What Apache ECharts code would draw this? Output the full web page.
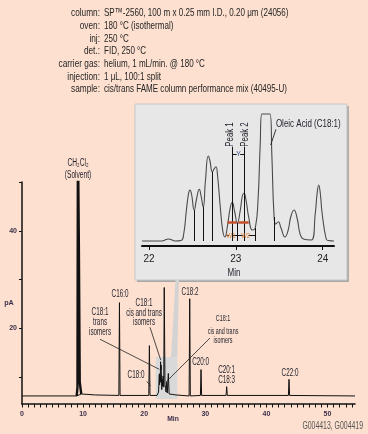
<!DOCTYPE html>
<html><head><meta charset="utf-8">
<script src="https://cdn.jsdelivr.net/npm/echarts@6/dist/echarts.min.js"></script>
<style>html,body{margin:0;padding:0;background:#fde0cf;}#c{width:368px;height:434px;}</style>
</head><body><div id="c"></div>
<script>
const FONT = "'Liberation Sans',Arial,sans-serif";

// ---------- header ----------
const headerLabels = ['column:', 'oven:', 'inj:', 'det.:', 'carrier gas:', 'injection:', 'sample:'];
const headerValues = ['SP\u2122-2560, 100 m x 0.25 mm I.D., 0.20 \u03bcm (24056)', '180 \u00b0C (isothermal)', '250 \u00b0C', 'FID, 250 \u00b0C', 'helium, 1 mL/min. @ 180 \u00b0C', '1 \u03bcL, 100:1 split', 'cis/trans FAME column performance mix (40495-U)'];

// ---------- main chromatogram (min, pA) ----------
const mainXLabels = [0, 10, 20, 30, 40, 50];
const mainXTickValues = [];
for (let i = 0; i <= 54; i++) mainXTickValues.push(i);
const mainYTicks = [10, 20, 30, 40, 50];
const mainYLabels = [20, 40];

const solventTrace = [[8.95, 6.2], [9.08, 8], [9.15, 60], [9.22, 60], [9.3, 38], [9.45, 9], [9.7, 6.6]];
const mainTrace = [
  [0, 6.2], [8.95, 6.2], [9.7, 6.6], [12, 6.4], [15.85, 6.3], [15.95, 25.3], [16.05, 6.3],
  [20.75, 6.3], [20.85, 16.5], [20.95, 6.3], [22.1, 6.3], [22.22, 6.6], [22.35, 7.0],
  [22.47, 10.6], [22.52, 8.5], [22.58, 10.8], [22.63, 9.0], [22.68, 13.2], [22.73, 11.5],
  [22.77, 12.5], [22.87, 7.5], [22.96, 9.6], [23.02, 8.2], [23.09, 10.3], [23.2, 8.0],
  [23.28, 28.4], [23.4, 8.5], [23.49, 8.0], [23.57, 7.0], [23.67, 9.0], [23.78, 6.8],
  [23.95, 10.8], [24.08, 6.6], [24.4, 6.9], [24.7, 6.5], [25.2, 6.4], [27.35, 6.2],
  [27.45, 26.1], [27.55, 6.2], [29.2, 6.3], [29.3, 11.6], [29.4, 6.3], [33.4, 6.3],
  [33.5, 8.1], [33.6, 6.3], [43.6, 6.3], [43.7, 9.6], [43.8, 6.3], [54.5, 6.2]
];

// ---------- inset (min, relative response) ----------
const insetXTicks = [22, 23, 24];
const insetTrace = [
  [21.92, 5], [22.15, 5], [22.20, 6.5], [22.22, 7], [22.25, 6.5], [22.30, 5], [22.37, 5.5],
  [22.40, 12], [22.43, 35], [22.455, 52], [22.472, 56], [22.49, 52], [22.521, 36], [22.55, 48],
  [22.579, 56.7], [22.60, 50], [22.625, 39], [22.65, 65], [22.683, 90], [22.70, 86], [22.731, 74],
  [22.75, 77], [22.771, 79.3], [22.79, 70], [22.82, 40], [22.85, 15], [22.875, 9], [22.90, 18],
  [22.935, 38], [22.959, 43.7], [22.985, 35], [23.017, 23], [23.05, 35], [23.075, 50],
  [23.094, 52.7], [23.115, 47], [23.15, 28], [23.19, 16], [23.224, 18], [23.255, 45],
  [23.28, 100], [23.30, 132], [23.35, 132], [23.393, 132], [23.415, 90], [23.44, 30], [23.46, 22],
  [23.489, 24.3], [23.52, 18], [23.566, 9], [23.60, 15], [23.635, 30], [23.67, 36],
  [23.705, 28], [23.74, 12], [23.777, 7], [23.87, 6], [23.915, 33], [23.935, 52],
  [23.954, 61], [23.973, 52], [23.993, 33], [24.04, 7], [24.064, 5.5], [24.13, 5]
];
const insetBaseline = 5;
const dropTimes = [22.521, 22.625, 22.731, 23.017, 23.224, 23.443];
const dropTops = [36, 39, 74, 23, 18, 29];
const peakLineTimes = [22.959, 23.094];
const peakLineTop = 99.3;

const chart = echarts.init(document.getElementById('c'));

const dropSegs = dropTimes.map((t, i) => [{coord: [t, insetBaseline]}, {coord: [t, dropTops[i]]}]);
peakLineTimes.forEach(t => dropSegs.push([{coord: [t, insetBaseline]}, {coord: [t, peakLineTop]}]));
const blk = {color: '#111', width: 1, type: 'solid'};
const red = {color: '#c4502e', width: 2.5, type: 'solid'};
// dimension marks (Y, W1, W2)
dropSegs.push([{coord: [22.959, 92], lineStyle: blk}, {coord: [23.01, 92]}]);
dropSegs.push([{coord: [23.05, 92], lineStyle: blk}, {coord: [23.094, 92]}]);
dropSegs.push([{coord: [22.903, 23.7], lineStyle: red}, {coord: [23.010, 23.7]}]);
dropSegs.push([{coord: [23.028, 23.7], lineStyle: red}, {coord: [23.148, 23.7]}]);
dropSegs.push([{coord: [22.895, 10.3]}, {coord: [22.922, 10.3]}]);
dropSegs.push([{coord: [22.968, 10.3]}, {coord: [23.017, 10.3]}]);
dropSegs.push([{coord: [23.017, 10.3]}, {coord: [23.085, 10.3]}]);
dropSegs.push([{coord: [23.145, 10.3]}, {coord: [23.224, 10.3]}]);

const option = {
  backgroundColor: '#fde0cf',
  animation: false,
  grid: [
    {left: 22, top: 182, width: 333, height: 222},
    {left: 142, top: 113, width: 192, height: 133}
  ],
  xAxis: [
    {gridIndex: 0, type: 'value', min: 0, max: 54.5,
      axisLine: {lineStyle: {color: '#111', width: 1.6}},
      axisTick: {customValues: mainXTickValues, length: 3.5, lineStyle: {color: '#111', width: 1}},
      axisLabel: {customValues: mainXLabels, fontSize: 7, fontWeight: 'bold', color: '#3b2f4a', margin: 7, fontFamily: FONT},
      splitLine: {show: false}},
    {gridIndex: 1, type: 'value', min: 21.92, max: 24.13,
      axisLine: {lineStyle: {color: '#111', width: 2}},
      axisTick: {customValues: insetXTicks, length: 4, lineStyle: {color: '#111', width: 1}},
      axisLabel: {customValues: insetXTicks, fontSize: 10, color: '#222', margin: 8, fontFamily: FONT},
      splitLine: {show: false}}
  ],
  yAxis: [
    {gridIndex: 0, type: 'value', min: 4.55, max: 50,
      axisLine: {show: true, lineStyle: {color: '#111', width: 1.5}},
      axisTick: {show: true, customValues: mainYTicks, length: 3, lineStyle: {color: '#111'}},
      axisLabel: {customValues: mainYLabels, fontSize: 7, fontWeight: 'bold', color: '#3b2f4a', margin: 5, fontFamily: FONT},
      splitLine: {show: false}},
    {gridIndex: 1, type: 'value', min: 0, max: 133, show: false}
  ],
  series: [
    {type: 'line', name: 'main', xAxisIndex: 0, yAxisIndex: 0, data: mainTrace, showSymbol: false, silent: true,
      lineStyle: {color: '#111', width: 1},
      markArea: {silent: true, itemStyle: {color: '#d9d9d9'}, data: [[{coord: [21.88, 5.57]}, {coord: [25.42, 14.17]}]]}},
    {type: 'line', name: 'solvent', xAxisIndex: 0, yAxisIndex: 0, data: solventTrace, showSymbol: false, silent: true,
      lineStyle: {color: '#111', width: 2.4}},
    {type: 'line', name: 'inset', xAxisIndex: 1, yAxisIndex: 1, data: insetTrace, showSymbol: false, silent: true,
      smooth: 0.5,
      lineStyle: {color: '#4a4a4a', width: 1.1},
      markLine: {silent: true, symbol: 'none', label: {show: false}, lineStyle: blk, data: dropSegs}}
  ]
};
chart.setOption(option);

// ---------- annotations ----------
const p0 = (t, v) => chart.convertToPixel({gridIndex: 0}, [t, v]);
const p1 = (t, v) => chart.convertToPixel({gridIndex: 1}, [t, v]);
const g = [];
function text(x, y, s, size, color, align, sx, extra) {
  const el = {type: 'text', z: 20, x: x, y: y, scaleX: sx || 0.75,
    style: Object.assign({text: s, fontSize: size, fontFamily: FONT, fill: color, align: align || 'center', verticalAlign: 'middle'}, extra || {})};
  g.push(el);
  return el;
}
function line(a, b, color, w) {
  g.push({type: 'line', z: 15, shape: {x1: a[0], y1: a[1], x2: b[0], y2: b[1]}, style: {stroke: color || '#222', lineWidth: w || 0.8}});
}
// header
headerLabels.forEach((l, i) => {
  const y = 13 + i * 12.7;
  text(100, y, l, 11.5, '#262626', 'right', 0.72);
  text(104, y, headerValues[i], 11.5, '#262626', 'left', 0.7);
});
// inset panel
const ia = p1(21.839, 142), ib = p1(24.279, -34);
g.push({type: 'rect', z: 0, shape: {x: ia[0] + 2, y: ia[1] + 2, width: ib[0] - ia[0], height: ib[1] - ia[1]}, style: {fill: '#a8a8a8'}});
g.push({type: 'rect', z: 0, shape: {x: ia[0], y: ia[1], width: ib[0] - ia[0], height: ib[1] - ia[1]}, style: {fill: '#e7e7e7', stroke: '#c8c8c8', lineWidth: 1}});
// connector strip
g.push({type: 'polygon', z: 0, shape: {points: [p0(24.39, 14.17), p0(25.12, 29.94), p0(25.70, 29.94), p0(25.42, 14.17)]}, style: {fill: '#d3d3d3'}});

const C = '#1e1e2a';
const S = 0.63;
// main labels
let q;
q = p0(9.17, 53.89); text(q[0], q[1], 'CH\u2082Cl\u2082', 10, C, 'center', 0.66);
q = p0(9.17, 51.43); text(q[0], q[1], '(Solvent)', 10, C, 'center', 0.66);
q = p0(16.04, 26.97); text(q[0], q[1], 'C16:0', 10, C, 'center', S);
q = p0(12.77, 23.24); text(q[0], q[1], 'C18:1', 10, C, 'center', S);
q = p0(12.77, 21.19); text(q[0], q[1], 'trans', 10, C, 'center', S);
q = p0(12.77, 19.15); text(q[0], q[1], 'isomers', 10, C, 'center', S);
line(p0(12.77, 17.8), p0(22.47, 11.65));
q = p0(19.97, 25.17); text(q[0], q[1], 'C18:1', 10, C, 'center', S);
q = p0(19.97, 23.12); text(q[0], q[1], 'cis and trans', 10, C, 'center', S);
q = p0(19.97, 21.2); text(q[0], q[1], 'isomers', 10, C, 'center', S);
line(p0(20.95, 20.25), p0(22.7, 13.56));
q = p0(18.66, 10.34); text(q[0], q[1], 'C18:0', 10, C, 'center', S);
line(p0(20.41, 9.17), p0(21.06, 8.29));
q = p0(27.5, 27.48); text(q[0], q[1], 'C18:2', 10, C, 'center', S);
q = p0(32.9, 21.97); text(q[0], q[1], 'C18:1', 9, C, 'center', 0.6);
q = p0(32.9, 19.43); text(q[0], q[1], 'cis and trans', 9, C, 'center', 0.6);
q = p0(32.9, 17.53); text(q[0], q[1], 'isomers', 9, C, 'center', 0.6);
line(p0(30.77, 18.06), p0(23.57, 9.05));
q = p0(29.25, 13.01); text(q[0], q[1], 'C20:0', 10, C, 'center', S);
q = p0(33.5, 11.51); text(q[0], q[1], 'C20:1', 10, C, 'center', S);
q = p0(33.5, 9.46); text(q[0], q[1], 'C18:3', 10, C, 'center', S);
q = p0(43.86, 10.84); text(q[0], q[1], 'C22:0', 10, C, 'center', S);
text(9, 303, 'pA', 8, '#3b2f4a', 'center', 0.9, {fontWeight: 'bold'});
text(173, 419, 'Min', 7.5, '#3b2f4a', 'center', 0.9, {fontWeight: 'bold'});
text(363, 426, 'G004413, G004419', 10, '#555', 'right', 0.69);
// inset labels
q = p1(23.834, 122); text(q[0], q[1], 'Oleic Acid (C18:1)', 10.5, C, 'center', 0.76);
line(p1(23.462, 116.7), p1(23.401, 101), '#222', 0.9);
q = p1(22.936, 111.5); text(q[0], q[1], 'Peak 1', 10, C, 'center', 0.78).rotation = Math.PI / 2;
q = p1(23.109, 111.5); text(q[0], q[1], 'Peak 2', 10, C, 'center', 0.78).rotation = Math.PI / 2;
q = p1(23.03, 92); text(q[0], q[1], 'Y', 8, '#2d4b8a', 'center', 0.85);
q = p1(22.944, 10.3); text(q[0], q[1], 'W1', 7.5, '#e07f2c', 'center', 0.8);
q = p1(23.113, 10.3); text(q[0], q[1], 'W2', 7.5, '#e07f2c', 'center', 0.8);
q = p1(22.978, -27); text(q[0], q[1], 'Min', 10, C, 'center', 0.8);

chart.setOption({graphic: {elements: g}});
</script></body></html>
